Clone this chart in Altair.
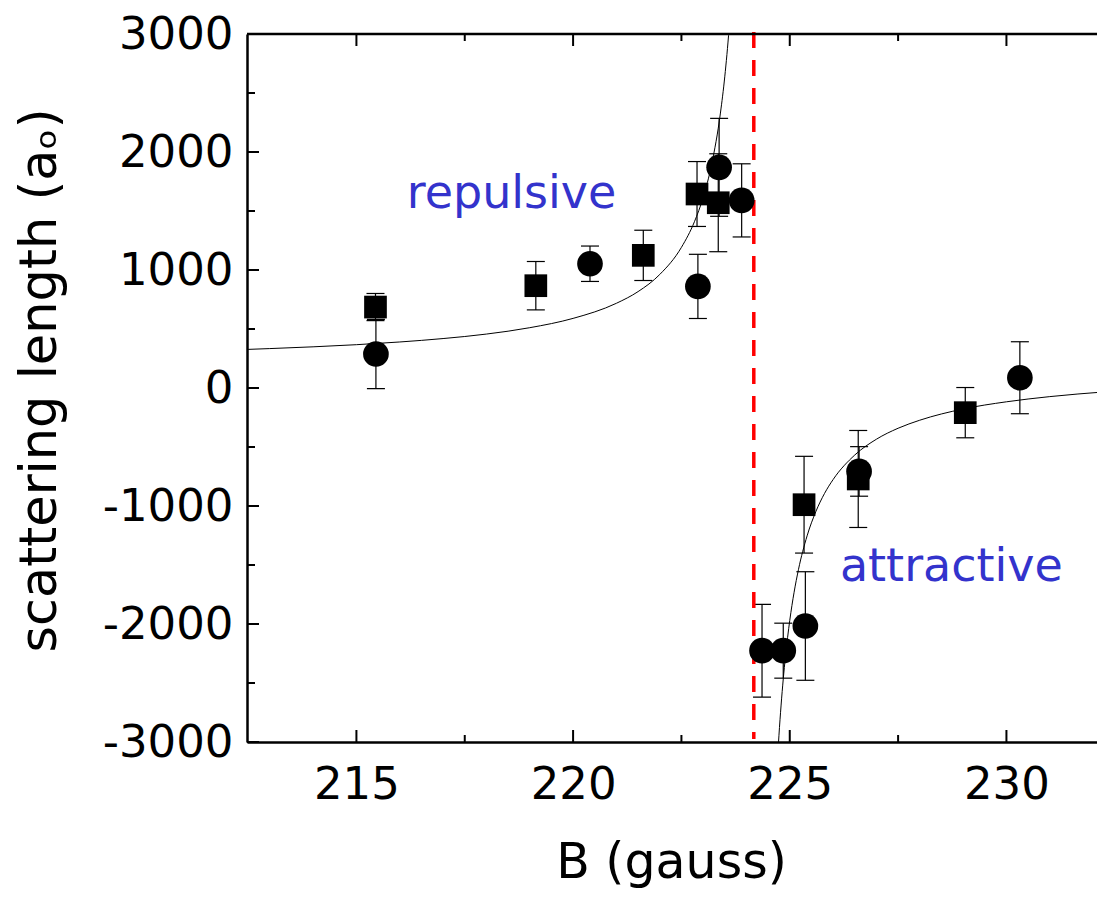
import altair as alt
import pandas as pd

# ---------------- data ----------------
# squares
sq_B = [215.44, 219.14, 221.62, 222.86, 223.35, 225.33, 226.58, 229.05]
sq_a = [686, 867, 1124, 1644, 1570, -989, -771, -209]
sq_err = [115, 205, 213, 275, 415, 410, 411, 213]

# circles
ci_B = [215.45, 220.39, 222.88, 223.37, 223.89, 224.36, 224.85, 225.36, 226.60, 230.31]
ci_a = [288, 1053, 861, 1870, 1590, -2226, -2226, -2017, -707, 87]
ci_err = [293, 150, 272, 415, 310, 393, 233, 460, 210, 305]

# fitted curve (two branches)
left_B = [212.48, 213.0, 214.0, 215.0, 216.0, 217.0, 218.0, 219.0, 220.0, 221.0,
          221.5, 222.0, 222.5, 222.8, 223.0, 223.2, 223.4, 223.5, 223.6, 223.65]
left_a = [327, 334, 349, 367, 390, 419, 457, 511, 590, 718,
          817, 962, 1192, 1409, 1613, 1900, 2330, 2637, 3047, 3307]
right_B = [224.72, 224.75, 224.8, 224.85, 224.9, 225.0, 225.1, 225.2, 225.4, 225.6,
           225.8, 226.0, 226.5, 227.0, 227.5, 228.0, 229.0, 230.0, 231.0, 232.3]
right_a = [-3128, -2947, -2687, -2466, -2277, -1970, -1731, -1540, -1253, -1049,
           -895, -776, -568, -434, -341, -273, -178, -117, -73, -32]

# resonance position (red dashed line)
res_B = [224.17]

# annotations
ann_text = ["repulsive", "attractive"]
ann_B = [218.58, 228.73]
ann_a = [1528, -1639]

# axis ticks
x_major = [215, 220, 225, 230]
x_minor = [217.5, 222.5, 227.5]
y_major = [-3000, -2000, -1000, 0, 1000, 2000, 3000]
y_minor = [-2500, -1500, -500, 500, 1500, 2500]

# ---------------- chart ----------------
FONT = "DejaVu Sans"
W, H = 850, 708
xscale = alt.Scale(domain=[212.475, 232.09], nice=False, zero=False)
yscale = alt.Scale(domain=[-3000, 3000], nice=False, zero=False)

pts = pd.DataFrame({
    "B": sq_B + ci_B,
    "a": sq_a + ci_a,
    "err": sq_err + ci_err,
    "kind": ["square"] * len(sq_B) + ["circle"] * len(ci_B),
})
pts["lo"] = pts["a"] - pts["err"]
pts["hi"] = pts["a"] + pts["err"]

curve = pd.DataFrame({
    "B": left_B + right_B,
    "a": left_a + right_a,
    "branch": ["left"] * len(left_B) + ["right"] * len(right_B),
})

xaxis = alt.Axis(
    values=x_major, ticks=False, grid=False, format="d",
    domainColor="black", domainWidth=2.5,
    labelFont=FONT, labelFontSize=45, labelColor="black",
    labelBaseline="alphabetic", labelPadding=56, labelFlush=False,
    title="B (gauss)", titleFont=FONT, titleFontSize=49, titleFontWeight="normal",
    titleColor="black", titleX=424, titleY=135, titleBaseline="alphabetic",
    titleAlign="center",
)
yaxis = alt.Axis(
    values=y_major, ticks=False, grid=False,
    labelExpr="toString(datum.value)",
    domainColor="black", domainWidth=2.5,
    labelFont=FONT, labelFontSize=45, labelColor="black",
    labelPadding=14, labelFlush=False,
    title="scattering length (aₒ)", titleFont=FONT, titleFontSize=51,
    titleFontWeight="normal", titleColor="black",
    titleX=-192, titleY=346, titleBaseline="alphabetic", titleAlign="center",
    titleAngle=270,
)


def X(field):
    return alt.X(field, scale=xscale, axis=xaxis)


def Y(field):
    return alt.Y(field, scale=yscale, axis=yaxis)


base_pts = alt.Chart(pts)

errbars = base_pts.mark_rule(color="black", strokeWidth=1.2).encode(
    x=X("B:Q"), y=Y("lo:Q"), y2="hi:Q",
)
cap_lo = base_pts.mark_tick(color="black", orient="horizontal", size=18, thickness=1.2, opacity=1).encode(
    x=X("B:Q"), y=Y("lo:Q"),
)
cap_hi = base_pts.mark_tick(color="black", orient="horizontal", size=18, thickness=1.2, opacity=1).encode(
    x=X("B:Q"), y=Y("hi:Q"),
)

circles = base_pts.transform_filter(alt.datum.kind == "circle").mark_point(
    shape="circle", filled=True, size=660, color="black", opacity=1
).encode(x=X("B:Q"), y=Y("a:Q"))
squares = base_pts.transform_filter(alt.datum.kind == "square").mark_point(
    shape="square", filled=True, size=515, color="black", opacity=1
).encode(x=X("B:Q"), y=Y("a:Q"))

fit = alt.Chart(curve).mark_line(color="black", strokeWidth=1, interpolate="monotone", clip=True).encode(
    x=X("B:Q"), y=Y("a:Q"), detail="branch:N",
)

red = alt.Chart(pd.DataFrame({"B": res_B})).mark_rule(
    color="#ff0000", strokeWidth=3.5, strokeDash=[16, 12]
).encode(
    x=X("B:Q"), y=alt.value(-2), y2=alt.value(H - 3),
)

ann = alt.Chart(pd.DataFrame({"t": ann_text, "B": ann_B, "a": ann_a})).mark_text(
    font=FONT, fontSize=46, color="#3333cc", align="center", baseline="alphabetic"
).encode(x=X("B:Q"), y=Y("a:Q"), text="t:N")


def xticks(vals, y0, y1):
    return alt.Chart(pd.DataFrame({"B": vals})).mark_rule(color="black", strokeWidth=2).encode(
        x=X("B:Q"), y=alt.value(y0), y2=alt.value(y1),
    )


def yticks(vals, length):
    return alt.Chart(pd.DataFrame({"a": vals})).mark_rule(color="black", strokeWidth=2).encode(
        y=Y("a:Q"), x=alt.value(0), x2=alt.value(length),
    )


top_line = alt.Chart(pd.DataFrame({"v": [0]})).mark_rule(color="black", strokeWidth=2.5).encode(
    x=alt.value(0), x2=alt.value(W), y=alt.value(0),
)

chart = alt.layer(
    errbars, cap_lo, cap_hi, fit, red, circles, squares, ann,
    xticks(x_major, H, H - 12), xticks(x_minor, H, H - 7),
    xticks(x_major, 0, 12), xticks(x_minor, 0, 7),
    yticks(y_major, 12), yticks(y_minor, 8),
    top_line,
).properties(
    width=W, height=H,
    background="white",
    autosize=alt.AutoSizeParams(type="none"),
    padding={"left": 239, "top": 26, "right": 0, "bottom": 148},
).configure_view(stroke=None)

chart.save("out.html", embed_options={"renderer": "svg", "actions": False})
